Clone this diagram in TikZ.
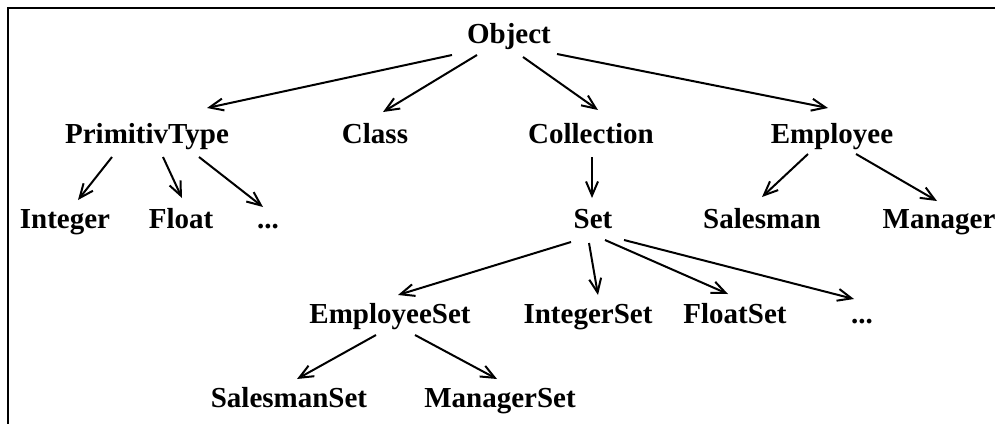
\documentclass[tikz,border=0pt]{standalone}
\usepackage{fontspec}
\setmainfont{Liberation Serif}
\usetikzlibrary{arrows.meta,calc}
\begin{document}
\begin{tikzpicture}[x=1pt,y=-1pt,
  lbl/.style={anchor=base,inner sep=0pt,font=\fontsize{29}{34}\selectfont\bfseries},
  conn/.style={line width=2pt,-{Straight Barb[length=14pt,width=12pt,line width=2pt]}},
  frame/.style={line width=2.6pt}]
\useasboundingbox (0,0) rectangle (995,423);
\clip (0,0) rectangle (995,423);
\draw[frame] (8,425) -- (8,8) -- (997,8);
% nodes
\node[lbl] (obj) at (509,43) {Object};
\node[lbl] (prim) at (147,143) {PrimitivType};
\node[lbl] (cls) at (375,143) {Class};
\node[lbl] (coll) at (591,143) {Collection};
\node[lbl] (emp) at (832,143) {Employee};
\node[lbl] (int) at (65,228) {Integer};
\node[lbl] (flt) at (181,228) {Float};
\node[lbl] (dotsA) at (268,228) {...};
\node[lbl] (set) at (593,228) {Set};
\node[lbl] (sal) at (762,228) {Salesman};
\node[lbl] (man) at (939,228) {Manager};
\node[lbl] (eset) at (390,323) {EmployeeSet};
\node[lbl] (iset) at (588,323) {IntegerSet};
\node[lbl] (fset) at (735,323) {FloatSet};
\node[lbl] (dotsB) at (862,323) {...};
\node[lbl] (sset) at (289,407) {SalesmanSet};
\node[lbl] (mset) at (500,407) {ManagerSet};
% connectors
\draw[conn] ($(obj.base)+(-57,12)$) -- ($(prim.base)+(60,-35)$);
\draw[conn] ($(obj.base)+(-32,12)$) -- ($(cls.base)+(8,-31)$);
\draw[conn] ($(obj.base)+(14,14)$) -- ($(coll.base)+(7,-33)$);
\draw[conn] ($(obj.base)+(48,11)$) -- ($(emp.base)+(-4,-35)$);
\draw[conn] ($(prim.base)+(-35,14)$) -- ($(int.base)+(13,-28)$);
\draw[conn] ($(prim.base)+(16,14)$) -- ($(flt.base)+(1,-30)$);
\draw[conn] ($(prim.base)+(52,14)$) -- ($(dotsA.base)+(-5,-21)$);
\draw[conn] ($(coll.base)+(1,14)$) -- ($(set.base)+(-1,-30)$);
\draw[conn] ($(emp.base)+(-24,11)$) -- ($(sal.base)+(0,-31)$);
\draw[conn] ($(emp.base)+(24,11)$) -- ($(man.base)+(-2,-27)$);
\draw[conn] ($(set.base)+(-22,14)$) -- ($(eset.base)+(8,-28)$);
\draw[conn] ($(set.base)+(-4,15)$) -- ($(iset.base)+(10,-28)$);
\draw[conn] ($(set.base)+(12,12)$) -- ($(fset.base)+(-7,-29)$);
\draw[conn] ($(set.base)+(31,12)$) -- ($(dotsB.base)+(-8,-24)$);
\draw[conn] ($(eset.base)+(-14,12)$) -- ($(sset.base)+(8,-28)$);
\draw[conn] ($(eset.base)+(25,12)$) -- ($(mset.base)+(-3,-28)$);
\end{tikzpicture}
\end{document}
